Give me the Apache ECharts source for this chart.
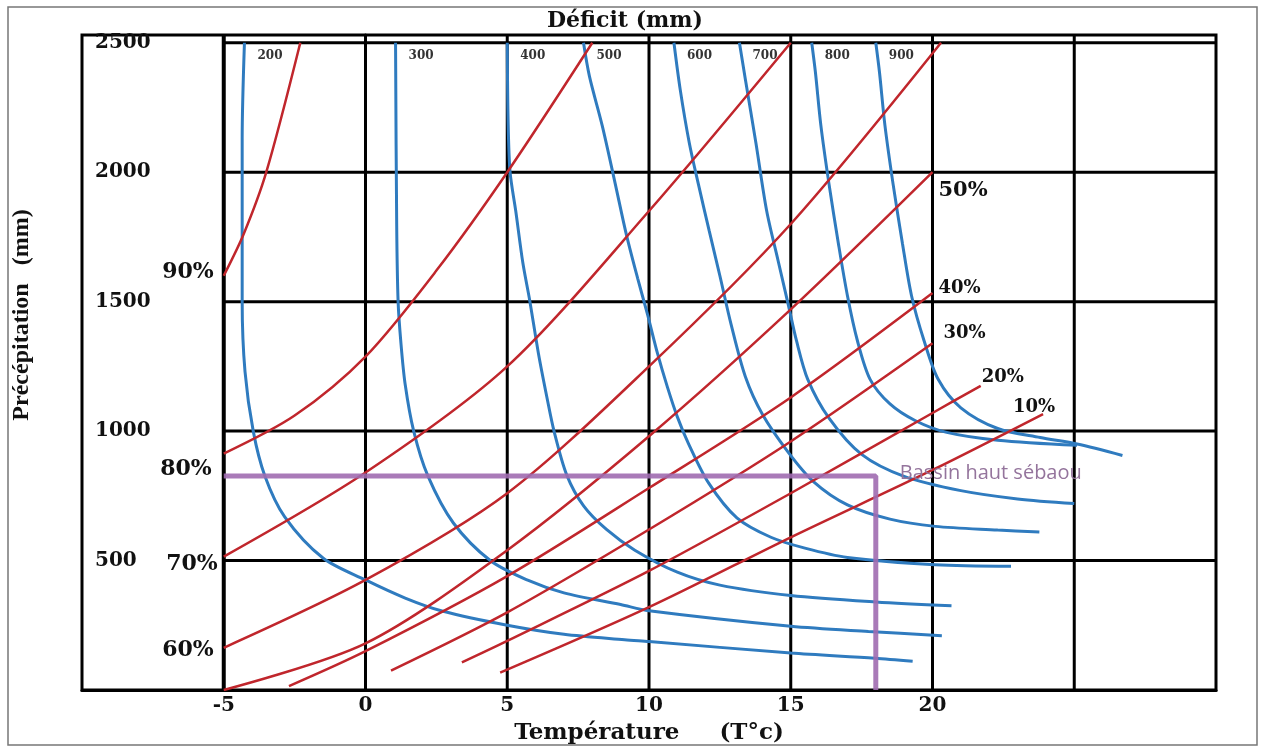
<!DOCTYPE html>
<html><head><meta charset="utf-8">
<script src="https://cdn.jsdelivr.net/npm/echarts@6/dist/echarts.min.js"></script>
<style>html,body{margin:0;padding:0;background:#fff}#c{width:1262px;height:747px}</style>
</head><body><div id="c"></div>
<script>
// ---- axis / tick data ----
const xTickLabels = [-5, 0, 5, 10, 15, 20];
const gridX = [-5, 0, 5, 10, 15, 20, 25];
const gridY = [500, 1000, 1500, 2000, 2500];
const yTickLabels = [500, 1000, 1500, 2000, 2500];

// ---- deficit curves (blue), [T, P] ----
const deficitNames = ['200', '300', '400', '500', '600', '700', '800', '900'];
const d200 = [[-4.27,2500],[-4.35,2130],[-4.35,1500],[-4.25,1230],[-3.96,1000],[-3.55,827],[-2.85,669],[-1.5,510],[0,425],[1.4,355],[2.7,305],[5,250],[7,215],[9.14,194],[10,187],[15,143],[17.97,123],[19.3,111]];
const d300 = [[1.06,2500],[1.1,1800],[1.15,1500],[1.25,1340],[1.4,1180],[1.7,1000],[2.2,827],[3.1,645],[4.4,500],[5.7,425],[7,375],[9,330],[10,306],[15,246],[17.74,226],[20.33,210]];
const d400 = [[5,2500],[5.03,2200],[5.1,2000],[5.3,1850],[5.55,1650],[5.8,1500],[6.1,1300],[6.4,1130],[6.65,1000],[7.1,830],[7.7,710],[8.5,620],[9.5,540],[11,455],[12.5,405],[15,365],[18,340],[20.67,325]];
const d500 = [[7.69,2500],[7.9,2370],[8.35,2180],[8.8,1960],[9.2,1760],[9.6,1590],[9.95,1450],[10.3,1300],[10.65,1170],[11.0,1055],[11.4,950],[12.1,800],[13.1,665],[14.3,590],[15.5,548],[17,512],[20.1,484],[22.77,478]];
const d600 = [[10.88,2500],[11.1,2320],[11.42,2114],[11.75,1950],[12.12,1775],[12.5,1600],[12.9,1410],[13.4,1210],[14.0,1065],[14.9,920],[15.8,805],[17.0,715],[18.5,660],[20.1,632],[22.3,618],[23.77,610]];
const d700 = [[13.19,2500],[13.4,2358],[13.77,2114],[14.15,1851],[14.55,1660],[14.92,1485],[15.2,1350],[15.6,1200],[16.35,1050],[17.5,910],[19,825],[21,770],[23,738],[25,720]];
const d800 = [[15.74,2500],[15.87,2386],[16.06,2183],[16.35,1954],[16.68,1725],[17.0,1523],[17.35,1350],[17.8,1200],[18.5,1105],[19.4,1040],[20.5,995],[22.3,965],[25.1,945]];
const d900 = [[18.0,2500],[18.13,2386],[18.32,2183],[18.61,1954],[18.94,1725],[19.26,1523],[19.7,1350],[20.2,1200],[21.0,1090],[22.3,1010],[23.8,975],[25.1,950],[26.7,906]];

// ---- ratio lines (red), [T, P] ----
const ratioNames = ['90%', '80%', '70%', '60%', '50%', '40%', '30%', '20%', '10%'];
const r90 = [[-5,1600],[-4.3,1760],[-3.5,2000],[-2.3,2500]];
const r80 = [[-5,913],[-2.5,1060],[0,1288],[2.5,1620],[5,2000],[8,2500]];
const r70 = [[-5,515],[0,840],[5,1250],[10,1850],[15,2500]];
const r60 = [[-5,163],[0,425],[5,760],[10,1250],[15,1800],[20.3,2500]];
const r50 = [[-5,0],[0,180],[5,540],[10,980],[15,1470],[20,2000]];
const r40 = [[-2.7,15],[0,150],[5,440],[10,780],[15,1130],[20,1533]];
const r30 = [[0.9,75],[5,300],[10,620],[15,960],[20,1339]];
const r20 = [[3.4,107],[5,190],[10,460],[15,760],[20,1070],[21.7,1175]];
const r10 = [[4.75,67],[10,320],[15,590],[20,850],[23.9,1066]];

// ---- basin point ----
const basinName = 'Bassin haut sébaou';
const basinPath = [[-5,827],[18,827],[18,0]];

const deficitCurves = [d200, d300, d400, d500, d600, d700, d800, d900];
const ratioLines = [r90, r80, r70, r60, r50, r40, r30, r20, r10];

const Y_MAX = 2530;
const serif = 'DejaVu Serif';
const series = [];

gridX.forEach(x => series.push({
  type: 'line', silent: true, symbol: 'none', z: 1,
  data: [[x, 0], [x, Y_MAX]],
  lineStyle: { color: '#000', width: x === -5 ? 4 : 3 }
}));
gridY.forEach(y => series.push({
  type: 'line', silent: true, symbol: 'none', z: 1,
  data: [[-5, y], [30, y]],
  lineStyle: { color: '#000', width: 3 }
}));

deficitCurves.forEach((d, i) => series.push({
  name: deficitNames[i], type: 'line', data: d, smooth: 0.3, symbol: 'none', z: 3,
  lineStyle: { color: '#2f7bbf', width: 3 },
  markPoint: {
    symbol: 'circle', symbolSize: 0, silent: true,
    data: [{ name: deficitNames[i], coord: d[0] }],
    label: { show: true, formatter: '{b}', position: [13, 7], color: '#333',
      fontFamily: serif, fontWeight: 'bold', fontSize: 12 }
  }
}));

// label placements for ratio lines
const ratioLabelStyle = [
  { at: 'start', position: 'left', distance: 10, offset: [0, -3], fontSize: 22 },
  { at: 'start', position: 'left', distance: 12, offset: [0, 16], fontSize: 22 },
  { at: 'start', position: 'left', distance: 6, offset: [0, 8], fontSize: 22 },
  { at: 'start', position: 'left', distance: 10, offset: [0, 2], fontSize: 22 },
  { at: 'end', position: 'right', distance: 6, offset: [0, 18], fontSize: 21 },
  { at: 'end', position: 'right', distance: 6, offset: [0, -5], fontSize: 18 },
  { at: 'end', position: 'right', distance: 11, offset: [0, -10], fontSize: 18 },
  { at: 'end', position: 'right', distance: 1, offset: [0, -8], fontSize: 18 },
  { at: 'end', position: 'right', distance: 0, offset: [-30, -7], fontSize: 18 }
];

ratioLines.forEach((d, i) => {
  const s = ratioLabelStyle[i];
  series.push({
    name: ratioNames[i], type: 'line', data: d, smooth: 0.3, symbol: 'none', z: 4,
    lineStyle: { color: '#c0262c', width: 2.5 },
    markPoint: {
      symbol: 'circle', symbolSize: 0, silent: true,
      data: [{ name: ratioNames[i], coord: s.at === 'start' ? d[0] : d[d.length - 1] }],
      label: { show: true, formatter: '{b}', position: s.position, distance: s.distance,
        offset: s.offset, color: '#111', fontFamily: serif, fontWeight: 'bold', fontSize: s.fontSize }
    }
  });
});

series.push({
  name: basinName, type: 'line', data: basinPath, symbol: 'none', z: 5,
  lineStyle: { color: '#a06bb0', width: 5, opacity: 0.9 },
  markPoint: {
    symbol: 'circle', symbolSize: 0, silent: true,
    data: [{ name: basinName, coord: basinPath[1] }],
    label: { show: true, formatter: '{b}', position: 'right', distance: 24, offset: [0, -3],
      color: '#94749c', fontFamily: 'Open Sans', fontSize: 20 }
  }
});

const chart = echarts.init(document.getElementById('c'), null, { renderer: 'canvas' });
chart.setOption({
  animation: false,
  backgroundColor: '#fff',
  title: {
    text: 'Déficit (mm)', left: 620, top: 5, textAlign: 'center',
    textStyle: { fontFamily: serif, fontWeight: 'bold', fontSize: 22, color: '#111' }
  },
  grid: { left: 82, right: 46, top: 35, bottom: 57, show: true, borderColor: '#000', borderWidth: 3,
    containLabel: false, outerBoundsMode: 'none' },
  xAxis: {
    type: 'value', min: -10, max: 30, interval: 5,
    name: 'Température     (T°c)', nameLocation: 'middle', nameGap: 32,
    nameTextStyle: { fontFamily: serif, fontWeight: 'bold', fontSize: 23, color: '#111' },
    axisLine: { show: true, lineStyle: { color: '#000', width: 3 } },
    axisTick: { show: false }, splitLine: { show: false },
    axisLabel: {
      margin: 6, color: '#111', fontFamily: serif, fontWeight: 'bold', fontSize: 20,
      formatter: v => xTickLabels.indexOf(v) >= 0 ? String(v) : ''
    }
  },
  yAxis: {
    type: 'value', min: 0, max: Y_MAX, interval: 500,
    axisLine: { show: true, lineStyle: { color: '#000', width: 3 } },
    axisTick: { show: false }, splitLine: { show: false },
    axisLabel: {
      inside: true, margin: 13, color: '#111', fontFamily: serif, fontWeight: 'bold', fontSize: 20,
      formatter: v => yTickLabels.indexOf(v) >= 0 ? String(v) : ''
    }
  },
  graphic: [
    { type: 'rect', shape: { x: 8, y: 7, width: 1249, height: 738 },
      style: { fill: 'none', stroke: '#777', lineWidth: 1.5 }, silent: true, z: -1 },
    { type: 'text', x: 22, y: 315, rotation: Math.PI / 2,
      style: { text: 'Précépitation   (mm)', fontFamily: 'Liberation Serif', fontWeight: 'bold', fontSize: 24,
        fill: '#111', align: 'center', verticalAlign: 'middle' } }
  ],
  series: series
});
</script></body></html>
